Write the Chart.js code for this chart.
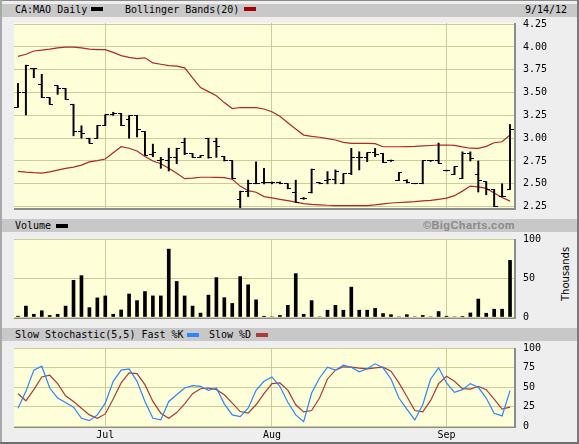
<!DOCTYPE html>
<html><head><meta charset="utf-8">
<script src="https://cdn.jsdelivr.net/npm/chart.js@4"></script>
<style>
html,body{margin:0;padding:0;background:#fff;}
#wrap{position:relative;width:579px;height:444px;background:#eeeeee;overflow:hidden;font-family:"DejaVu Sans Mono",monospace;font-size:10px;color:#000;}
.hdr{position:absolute;left:2px;width:575px;height:13px;background:#c8c8c8;}
.plot{position:absolute;left:14px;width:500px;background:#fefed8;border-right:2px solid #8c8c8c;border-bottom:2px solid #8c8c8c;}
.txt{position:absolute;white-space:pre;line-height:10px;font-family:"DejaVu Sans Mono",monospace;font-size:10px;}
.sw{position:absolute;height:4px;width:12px;}
canvas{position:absolute;left:0;}
.bd{position:absolute;}
</style></head>
<body><div id="wrap">
<div class="hdr" style="top:4px"></div>
<div class="txt" style="left:15px;top:5px">CA:MAO Daily</div>
<div class="sw" style="left:91px;top:7px;background:#000"></div>
<div class="txt" style="left:125px;top:5px">Bollinger Bands(20)</div>
<div class="sw" style="left:244px;top:7px;background:#a80000"></div>
<div class="txt" style="left:525px;top:5px">9/14/12</div>

<div class="hdr" style="top:219px"></div>
<div class="txt" style="left:15px;top:221px">Volume</div>
<div class="sw" style="left:56px;top:224px;background:#000"></div>
<div class="txt" style="left:423px;top:220px;font-family:'Liberation Sans',Arial,sans-serif;font-weight:bold;font-size:11px;color:#8a8a8a;line-height:11px;letter-spacing:0.4px">©BigCharts.com</div>

<div class="hdr" style="top:328px"></div>
<div class="txt" style="left:15px;top:330px">Slow Stochastic(5,5) Fast %K</div>
<div class="sw" style="left:187px;top:333px;background:#2a86ff"></div>
<div class="txt" style="left:209px;top:330px">Slow %D</div>
<div class="sw" style="left:256px;top:333px;background:#a83c3c"></div>

<div class="plot" style="top:23px;height:185px"></div>
<div class="plot" style="top:239px;height:78px"></div>
<div class="plot" style="top:348px;height:78px"></div>

<div class="txt" style="top:270px;width:52px;text-align:center;font-family:'DejaVu Sans',sans-serif;font-size:10px;transform:rotate(-90deg);transform-origin:50% 50%;left:540px;">Thousands</div>

<canvas id="c1" width="579" height="216" style="top:0px"></canvas>
<canvas id="c2" width="579" height="93" style="top:232px"></canvas>
<canvas id="c3" width="579" height="103" style="top:341px"></canvas>

<div class="bd" style="left:0;top:0;width:579px;height:1px;background:#8a8a8a"></div>
<div class="bd" style="left:0;top:0;width:2px;height:444px;background:#a8a8a8"></div>
<div class="bd" style="left:577px;top:0;width:2px;height:444px;background:#7a7a7a"></div>
<div class="bd" style="left:0;top:442px;width:579px;height:2px;background:#6e6e6e"></div>
</div>
<script>
const dates = ['6/15','6/18','6/19','6/20','6/21','6/22','6/25','6/26','6/27','6/28','6/29',
  '7/3','7/4','7/5','7/6','7/9','7/10','7/11','7/12','7/13','7/16','7/17','7/18','7/19','7/20','7/23','7/24','7/25','7/26','7/27','7/30','7/31',
  '8/1','8/2','8/3','8/7','8/8','8/9','8/10','8/13','8/14','8/15','8/16','8/17','8/20','8/21','8/22','8/23','8/24','8/27','8/28','8/29','8/30','8/31',
  '9/4','9/5','9/6','9/7','9/10','9/11','9/12','9/13','9/14'];
const monthTicks = {'7/3':'Jul','8/1':'Aug','9/4':'Sep'};

const opens  = [3.34,3.50,3.765,3.583,3.444,3.572,3.546,3.372,3.073,3.00,3.00,3.139,3.255,3.27,3.20,3.244,3.07,2.82,2.75,2.75,2.79,2.95,2.83,2.79,3.00,2.96,2.80,2.75,2.33,2.42,2.50,2.51,2.51,2.51,2.50,2.40,2.34,2.40,2.51,2.54,2.543,2.50,2.609,2.79,2.79,2.84,2.833,2.75,2.536,2.535,2.505,2.50,2.75,2.75,2.645,2.60,2.557,2.83,2.60,2.52,2.44,2.36,2.44];
const highs  = [3.60,3.80,3.765,3.70,3.444,3.572,3.546,3.372,3.135,3.00,3.139,3.255,3.284,3.27,3.244,3.25,3.07,2.935,2.79,2.89,2.89,3.00,2.83,2.81,3.00,3.00,2.80,2.75,2.42,2.54,2.74,2.67,2.52,2.52,2.50,2.54,2.35,2.662,2.515,2.634,2.652,2.609,2.888,2.851,2.84,2.888,2.833,2.76,2.623,2.545,2.505,2.752,2.755,2.946,2.65,2.687,2.85,2.85,2.75,2.52,2.44,2.50,3.15];
const lows   = [3.34,3.255,3.663,3.444,3.372,3.48,3.426,3.026,3.00,2.946,3.00,3.139,3.25,3.139,3.00,3.015,2.815,2.797,2.67,2.64,2.72,2.82,2.79,2.79,2.78,2.79,2.75,2.56,2.23,2.36,2.50,2.50,2.50,2.50,2.445,2.30,2.33,2.40,2.50,2.50,2.50,2.50,2.60,2.652,2.743,2.797,2.732,2.745,2.536,2.51,2.50,2.50,2.745,2.727,2.64,2.60,2.557,2.75,2.41,2.38,2.25,2.36,2.44];
const closes = [3.50,3.80,3.765,3.444,3.372,3.546,3.426,3.073,3.055,2.946,3.139,3.255,3.265,3.139,3.244,3.096,2.815,2.847,2.77,2.79,2.89,2.83,2.79,2.81,2.79,2.91,2.75,2.56,2.42,2.50,2.50,2.51,2.51,2.50,2.445,2.30,2.34,2.662,2.505,2.543,2.634,2.609,2.79,2.79,2.84,2.826,2.732,2.754,2.623,2.51,2.50,2.752,2.75,2.727,2.645,2.687,2.83,2.775,2.54,2.44,2.25,2.36,3.09];

const bbUpper = [3.896,3.92,3.955,3.965,3.975,3.99,3.998,3.998,3.99,3.975,3.97,3.97,3.94,3.905,3.885,3.872,3.88,3.825,3.81,3.795,3.79,3.77,3.66,3.555,3.51,3.465,3.39,3.325,3.336,3.335,3.335,3.32,3.29,3.24,3.17,3.10,3.034,3.02,3.01,2.995,2.98,2.955,2.943,2.943,2.943,2.94,2.906,2.906,2.906,2.908,2.91,2.915,2.92,2.925,2.925,2.922,2.905,2.89,2.889,2.91,2.95,2.961,3.034];
const bbLower = [2.637,2.628,2.622,2.618,2.63,2.65,2.67,2.682,2.705,2.74,2.755,2.772,2.84,2.906,2.89,2.86,2.80,2.75,2.72,2.67,2.615,2.556,2.562,2.572,2.572,2.57,2.568,2.55,2.475,2.425,2.408,2.36,2.345,2.33,2.315,2.30,2.282,2.275,2.27,2.265,2.262,2.262,2.262,2.262,2.262,2.27,2.28,2.29,2.295,2.30,2.305,2.313,2.318,2.33,2.343,2.37,2.42,2.475,2.466,2.45,2.40,2.35,2.31];

const volume = [1,14,3.5,8,2,3.5,14,47,53,12,24.5,27,3.5,9,29.5,21,32.6,27,27,87,45.6,27,14,5,28,50.5,24.8,17.4,51.8,41.3,22,1,0,2,15,55.6,3.5,21,0,8.7,15,8.7,38.3,8.7,8.7,11,4.4,3,0,3,0,2,0,7,1,0,0.5,5.2,23,4.8,10,10,72.6];

const fastK = [22.8,44.4,71.6,76.7,48.7,35.8,30.2,24.1,9.9,6.9,14.2,29.3,57.3,71.6,73.3,57.3,31.5,9.9,7.8,31.5,40,48.7,51.7,50.9,45.7,48.7,28.4,14.2,12.1,22.8,45.7,57.3,62.9,50.9,30.5,14.2,5.6,42.2,61.6,75.4,71.6,78,75.4,69.4,73.3,79.7,74.6,60.3,35.8,21.6,7.8,27.2,60.3,74.6,55.2,43.1,46.6,54.3,49.6,35.8,16.4,12.9,45.3];
const slowD = [41.4,32.3,46.6,62.9,65.1,54.3,38.8,31.5,22.8,14.2,9.9,15.5,34.5,55.2,68.1,67.2,53,31.5,16.4,9.9,17.2,28.4,41.4,47.8,48.7,46.6,40.1,29.3,18.5,16.4,27.2,41.4,54.3,55.2,46,27.2,18.1,19.8,35.8,60.3,71.6,75.9,75.4,74.1,73.3,74.6,75.4,70.3,55.2,37.9,19.8,18.1,32.8,54.3,63.8,57.3,47.8,47.4,50.9,46.6,34.5,21.6,24.1];

const priceTicks = [2.25,2.5,2.75,3.0,3.25,3.5,3.75,4.0,4.25];
const volumeTicks = [0,50,100];
const stochTicks = [0,25,50,75,100];

const GRID = '#cccc99';
const FONT = {family:'DejaVu Sans Mono', size:10};
const BB_COLOR = '#b02828';

function tickImg(side){
  const c = document.createElement('canvas'); c.width = 7; c.height = 1;
  const g = c.getContext('2d'); g.fillStyle = '#000';
  if (side === 'left') g.fillRect(0,0,4,1); else g.fillRect(3,0,4,1);
  return c;
}

function xScale(showLabels){
  return {
    type:'category', labels:dates, offset:true,
    grid:{offset:false, drawTicks:false, lineWidth:1,
      color: c => (monthTicks[dates[c.index]] ? GRID : 'rgba(0,0,0,0)')},
    border:{display:false},
    ticks:{display:showLabels, autoSkip:false, maxRotation:0, minRotation:0, padding:3, font:FONT, color:'#000',
      callback:(v,i) => monthTicks[dates[i]] || ''},
    afterFit: s => { s.height = showLabels ? 18 : 0; }
  };
}
function yScale(min,max,ticks,fmt){
  return {
    position:'right', min:min, max:max,
    afterBuildTicks: s => { s.ticks = ticks.map(v => ({value:v})); },
    grid:{color:GRID, lineWidth:1, drawTicks:true, tickLength:9, tickColor:'rgba(0,0,0,0)'},
    border:{display:false},
    ticks:{padding:0, font:FONT, color:'#000', callback: v => fmt(v)},
    afterFit: s => { s.width = 65; }
  };
}
const common = {
  responsive:false, maintainAspectRatio:false, animation:false, events:[],
  plugins:{legend:{display:false}, tooltip:{enabled:false}}
};

function fitArea(chart, top, bottom){
  for (let k = 0; k < 3; k++){
    const a = chart.chartArea;
    const dt = top - a.top, db = a.bottom - bottom;
    if (Math.abs(dt) < 0.5 && Math.abs(db) < 0.5) break;
    const p = chart.options.layout.padding;
    chart.options.layout.padding = {left:p.left, right:p.right, top:p.top + dt, bottom:p.bottom + db};
    chart.update();
  }
}

const ch1 = new Chart(document.getElementById('c1'), {
  type:'bar',
  data:{labels:dates, datasets:[
    {type:'line', data:bbUpper, borderColor:BB_COLOR, borderWidth:1.2, pointRadius:0, order:3},
    {type:'line', data:bbLower, borderColor:BB_COLOR, borderWidth:1.2, pointRadius:0, order:3},
    {type:'bar', data:lows.map((l,i)=>[l,highs[i]]), backgroundColor:'#000', barThickness:1.3, grouped:false, order:2},
    {type:'line', data:opens, showLine:false, pointStyle:tickImg('left'), pointRadius:3, pointHoverRadius:3, order:1},
    {type:'line', data:closes, showLine:false, pointStyle:tickImg('right'), pointRadius:3, pointHoverRadius:3, order:1}
  ]},
  options:Object.assign({}, common, {
    layout:{padding:{left:14, top:23, right:0, bottom:8}},
    scales:{x:xScale(false), y:yScale(2.235,4.262,priceTicks,v=>v.toFixed(2))}
  })
});
fitArea(ch1, 23, 208);

const ch2 = new Chart(document.getElementById('c2'), {
  type:'bar',
  data:{labels:dates, datasets:[
    {data:volume, backgroundColor:'#000', barThickness:3}
  ]},
  options:Object.assign({}, common, {
    layout:{padding:{left:14, top:7, right:0, bottom:8}},
    scales:{x:xScale(false), y:yScale(0,100,volumeTicks,v=>String(v))}
  })
});
fitArea(ch2, 7, 85);

const ch3 = new Chart(document.getElementById('c3'), {
  type:'line',
  data:{labels:dates, datasets:[
    {data:fastK, borderColor:'#2a86ff', borderWidth:1.2, pointRadius:0, tension:0},
    {data:slowD, borderColor:'#a83c3c', borderWidth:1.2, pointRadius:0, tension:0}
  ]},
  options:Object.assign({}, common, {
    layout:{padding:{left:14, top:7, right:0, bottom:0}},
    scales:{x:xScale(true), y:yScale(0,100,stochTicks,v=>String(v))}
  })
});
fitArea(ch3, 7, 85);
</script>
</body></html>
